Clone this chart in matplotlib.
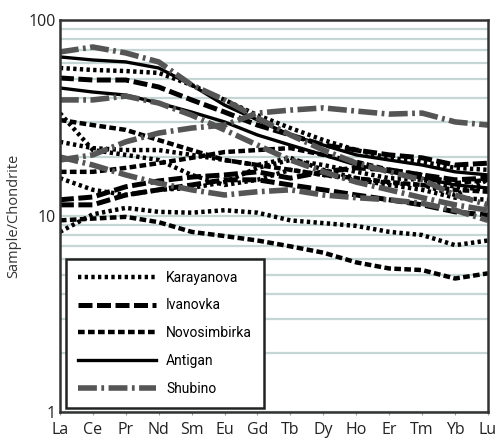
import numpy as np
import matplotlib.pyplot as plt
from matplotlib.lines import Line2D

plt.rcParams['font.family'] = ['Open Sans', 'DejaVu Sans']

elements = ['La', 'Ce', 'Pr', 'Nd', 'Sm', 'Eu', 'Gd', 'Tb', 'Dy', 'Ho', 'Er', 'Tm', 'Yb', 'Lu']

# chondrite normalised values
karayanova = [
    [56.9, 55.6, 54.9, 53.7, 46.6, 39.1, 32.7, 28.1, 24.4, 21.7, 19.8, 18.9, 17.6, 17.2],
    [33.5, 21.7, 20.5, 19.3, 16.2, 14.4, 15.3, 17.2, 16.2, 15.3, 14.4, 13.6, 12.4, 12.1],
    [23.9, 22.2, 21.7, 21.7, 20.5, 19.3, 18.2, 19.8, 17.2, 15.6, 14.7, 14.4, 12.8, 15.3],
    [8.3, 10.2, 11.0, 10.5, 10.4, 10.7, 10.4, 9.5, 9.2, 8.9, 8.3, 8.0, 7.1, 7.5],
    [15.6, 13.6, 12.8, 13.6, 13.9, 14.9, 17.6, 19.3, 18.2, 16.8, 15.6, 15.3, 14.1, 13.6],
]
ivanovka = [
    [50.6, 49.4, 49.4, 45.5, 39.1, 33.9, 29.1, 25.9, 23.0, 21.7, 20.5, 19.8, 18.2, 18.6],
    [12.1, 12.5, 14.1, 15.1, 15.8, 16.2, 16.8, 15.6, 16.8, 17.6, 17.2, 16.2, 15.3, 15.6],
    [11.4, 11.4, 12.8, 13.6, 14.4, 15.3, 15.3, 14.4, 13.6, 12.8, 12.1, 11.4, 10.5, 10.1],
]
novosimbirka = [
    [16.8, 16.8, 17.6, 18.6, 19.8, 21.2, 21.7, 22.2, 20.5, 18.9, 17.2, 16.2, 14.7, 15.3],
    [9.5, 9.7, 9.9, 9.3, 8.3, 7.9, 7.5, 7.0, 6.5, 5.8, 5.4, 5.3, 4.8, 5.1],
    [30.9, 29.1, 27.5, 24.4, 21.7, 19.3, 18.2, 17.2, 16.2, 15.6, 14.9, 14.4, 13.6, 13.3],
]
antigan = [
    [64.8, 62.5, 61.1, 56.9, 46.6, 36.8, 30.9, 25.9, 23.0, 20.5, 19.3, 18.2, 16.8, 16.2],
    [45.0, 42.9, 41.4, 37.7, 33.9, 30.2, 25.9, 23.0, 20.5, 18.2, 16.8, 15.6, 14.4, 13.9],
]
shubino = [
    [68.7, 72.8, 67.9, 61.1, 46.6, 39.1, 31.6, 25.9, 21.7, 18.6, 16.8, 15.3, 12.8, 11.4],
    [39.1, 39.1, 40.9, 37.7, 32.7, 27.5, 23.0, 19.3, 16.8, 14.9, 13.6, 12.4, 11.4, 10.7],
    [19.3, 20.5, 23.9, 26.5, 28.1, 29.1, 33.5, 34.7, 35.6, 34.3, 33.1, 33.5, 30.2, 29.1],
    [20.0, 18.2, 16.2, 14.7, 13.6, 12.8, 13.3, 13.6, 12.8, 12.4, 12.1, 11.6, 10.7, 9.5],
]

styles = {
    'Karayanova': dict(color='black', lw=3.2, linestyle=(0, (0.75, 0.75))),
    'Ivanovka': dict(color='black', lw=3.6, linestyle=(0, (2.8, 0.9))),
    'Novosimbirka': dict(color='black', lw=3.2, linestyle=(0, (1.5, 0.75))),
    'Antigan': dict(color='black', lw=2.4, linestyle='-'),
    'Shubino': dict(color='#555555', lw=4.0, linestyle=(0, (3.4, 0.8, 0.5, 0.8))),
}
groups = [('Karayanova', karayanova), ('Ivanovka', ivanovka), ('Novosimbirka', novosimbirka),
          ('Antigan', antigan), ('Shubino', shubino)]

fig = plt.figure(figsize=(4.99, 4.44), dpi=100)
ax = fig.add_axes([0.120, 0.072, 0.858, 0.883])

x = np.arange(len(elements))
for name, rows in groups:
    for r in rows:
        ax.plot(x, r, **styles[name])

ax.set_yscale('log')
ax.set_ylim(1, 100)
ax.set_xlim(0, len(elements) - 1)
ax.set_xticks(x)
ax.set_xticklabels(elements, fontsize=11.5, color='#222222')
ax.set_yticks([1, 10, 100])
ax.set_yticklabels(['1', '10', '100'], fontsize=11.5, color='#222222')
ax.tick_params(axis='y', which='both', length=0, pad=3)
ax.tick_params(axis='x', length=2, color='#999999', pad=5)
ax.yaxis.grid(True, which='both', color='#c6d6d4', lw=1.6)
ax.set_axisbelow(True)
for s in ax.spines.values():
    s.set_linewidth(1.8)
    s.set_color('#333333')
ax.set_ylabel('Sample/Chondrite', fontsize=10.5, color='#333333', labelpad=5)

handles = [Line2D([0], [0], **styles[n]) for n, _ in groups]
leg = ax.legend(handles, [n for n, _ in groups], loc='lower left',
                bbox_to_anchor=(0.005, 0.0), handlelength=5.6,
                prop=dict(family='Roboto', size=10),
                fancybox=False, framealpha=1, edgecolor='#222222',
                borderpad=0.85, labelspacing=1.0, handletextpad=0.75,
                borderaxespad=0.3)
leg.get_frame().set_linewidth(1.8)

fig.savefig('out.png', dpi=100)
